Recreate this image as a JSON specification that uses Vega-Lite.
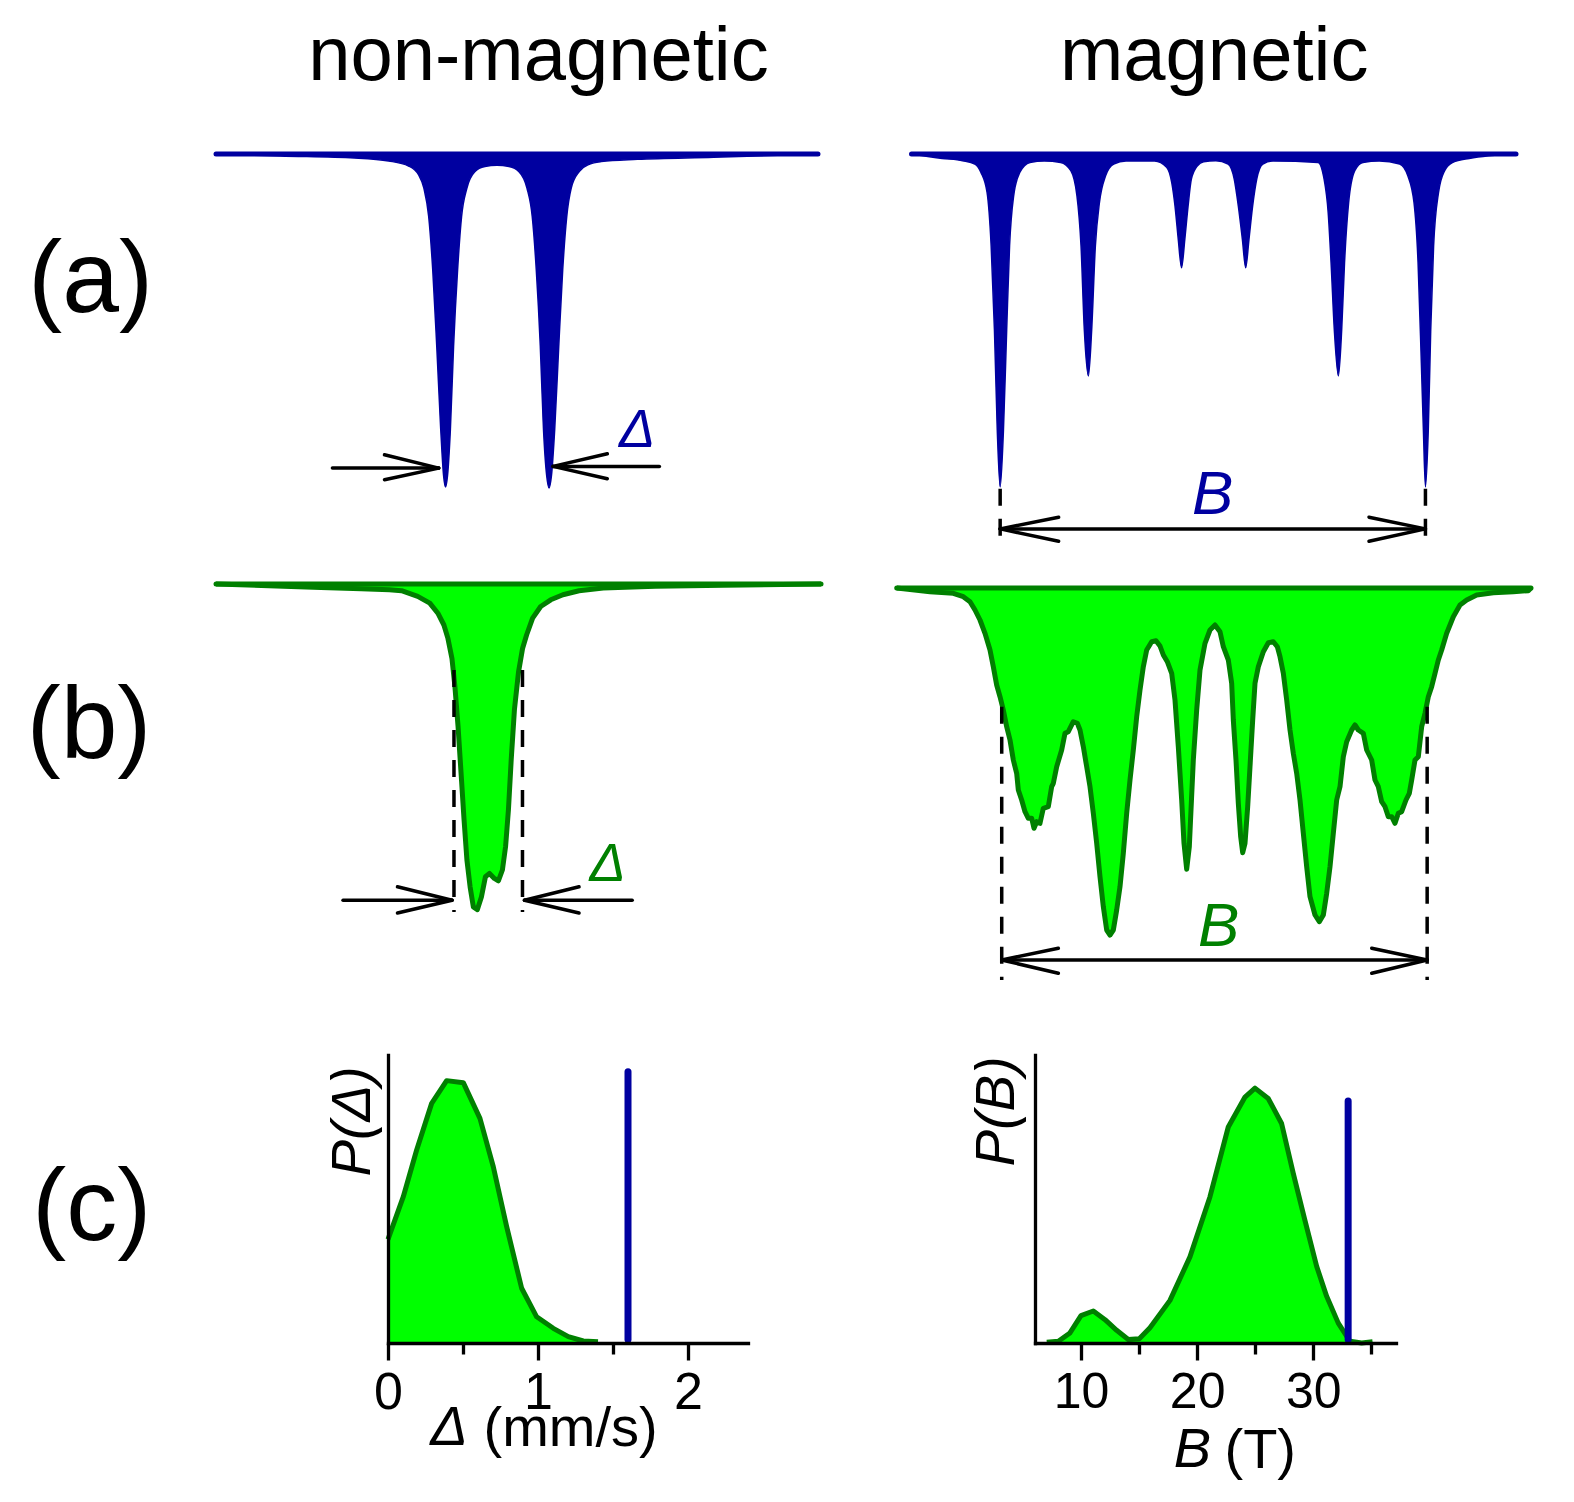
{
  "$schema": "https://vega.github.io/schema/vega-lite/v6.json",
  "width": 1574,
  "height": 1502,
  "padding": 0,
  "autosize": {"type": "none"},
  "background": "white",
  "config": {
    "view": {"stroke": null},
    "font": "Liberation Sans",
    "axis": {"labelFont": "Liberation Sans", "titleFont": "Liberation Sans", "labelColor": "black", "titleColor": "black", "domainColor": "black", "tickColor": "black", "grid": false}
  },
  "datasets": {
    "a_left": [
      {"v": -4.323, "T": 100}, {"v": -3.335, "T": 99.8}, {"v": -2.193, "T": 99.6}, {"v": -1.668, "T": 99.3}, {"v": -1.36, "T": 98.8},
      {"v": -1.205, "T": 97.91}, {"v": -1.125, "T": 96.58}, {"v": -1.051, "T": 93.76}, {"v": -0.989, "T": 88.45}, {"v": -0.927, "T": 80.81},
      {"v": -0.866, "T": 72.51}, {"v": -0.822, "T": 67.86}, {"v": -0.792, "T": 66.7}, {"v": -0.761, "T": 67.86}, {"v": -0.717, "T": 72.51},
      {"v": -0.668, "T": 80.81}, {"v": -0.606, "T": 88.45}, {"v": -0.545, "T": 93.76}, {"v": -0.464, "T": 96.58}, {"v": -0.341, "T": 98.24},
      {"v": -0.186, "T": 98.74}, {"v": -0.001, "T": 98.87}, {"v": 0.184, "T": 98.74}, {"v": 0.338, "T": 98.24}, {"v": 0.462, "T": 96.58},
      {"v": 0.542, "T": 93.76}, {"v": 0.604, "T": 88.45}, {"v": 0.666, "T": 80.81}, {"v": 0.715, "T": 72.51}, {"v": 0.764, "T": 67.86},
      {"v": 0.801, "T": 66.6}, {"v": 0.838, "T": 67.86}, {"v": 0.888, "T": 72.51}, {"v": 0.95, "T": 80.81}, {"v": 1.011, "T": 88.45},
      {"v": 1.073, "T": 93.76}, {"v": 1.141, "T": 96.58}, {"v": 1.264, "T": 98.24}, {"v": 1.419, "T": 98.97}, {"v": 1.604, "T": 99.24},
      {"v": 2.16, "T": 99.47}, {"v": 3.333, "T": 99.67}, {"v": 4.938, "T": 100}
    ],
    "a_right": [
      {"v": -7.531, "T": 100}, {"v": -6.765, "T": 99.56}, {"v": -6.255, "T": 99.33}, {"v": -5.948, "T": 99.0}, {"v": -5.795, "T": 98.16},
      {"v": -5.642, "T": 96.15}, {"v": -5.54, "T": 90.8}, {"v": -5.458, "T": 82.43}, {"v": -5.387, "T": 72.39}, {"v": -5.315, "T": 66.7},
      {"v": -5.233, "T": 72.39}, {"v": -5.152, "T": 82.43}, {"v": -5.08, "T": 90.8}, {"v": -4.978, "T": 95.82}, {"v": -4.825, "T": 98.16},
      {"v": -4.57, "T": 99.16}, {"v": -4.212, "T": 99.3}, {"v": -3.804, "T": 99.16}, {"v": -3.548, "T": 98.33}, {"v": -3.395, "T": 95.82},
      {"v": -3.293, "T": 90.8}, {"v": -3.211, "T": 82.43}, {"v": -3.109, "T": 77.81}, {"v": -3.027, "T": 82.43}, {"v": -2.935, "T": 90.8},
      {"v": -2.833, "T": 95.15}, {"v": -2.68, "T": 97.82}, {"v": -2.476, "T": 99.0}, {"v": -2.169, "T": 99.3}, {"v": -1.455, "T": 99.3},
      {"v": -1.148, "T": 98.66}, {"v": -1.026, "T": 97.16}, {"v": -0.944, "T": 94.81}, {"v": -0.862, "T": 91.47}, {"v": -0.78, "T": 88.62},
      {"v": -0.699, "T": 91.47}, {"v": -0.617, "T": 94.81}, {"v": -0.535, "T": 97.49}, {"v": -0.382, "T": 98.83}, {"v": -0.229, "T": 99.23},
      {"v": 0.077, "T": 99.33}, {"v": 0.384, "T": 99.0}, {"v": 0.537, "T": 97.49}, {"v": 0.639, "T": 94.81}, {"v": 0.741, "T": 91.47},
      {"v": 0.823, "T": 88.62}, {"v": 0.905, "T": 91.47}, {"v": 0.997, "T": 94.81}, {"v": 1.099, "T": 97.49}, {"v": 1.252, "T": 99.0},
      {"v": 1.507, "T": 99.3}, {"v": 2.631, "T": 99.16}, {"v": 2.784, "T": 97.49}, {"v": 2.886, "T": 94.14}, {"v": 2.958, "T": 89.12},
      {"v": 3.039, "T": 82.43}, {"v": 3.141, "T": 77.81}, {"v": 3.223, "T": 82.43}, {"v": 3.294, "T": 89.12}, {"v": 3.397, "T": 95.15},
      {"v": 3.55, "T": 98.33}, {"v": 3.754, "T": 99.16}, {"v": 4.163, "T": 99.3}, {"v": 4.673, "T": 99.0}, {"v": 4.877, "T": 97.82},
      {"v": 5.031, "T": 95.15}, {"v": 5.133, "T": 89.12}, {"v": 5.215, "T": 79.08}, {"v": 5.266, "T": 72.39}, {"v": 5.317, "T": 66.7},
      {"v": 5.388, "T": 72.39}, {"v": 5.449, "T": 82.43}, {"v": 5.521, "T": 90.8}, {"v": 5.644, "T": 96.15}, {"v": 5.797, "T": 98.33},
      {"v": 6.001, "T": 99.16}, {"v": 6.41, "T": 99.56}, {"v": 7.584, "T": 100}
    ],
    "b_left": [
      {"v": -4.323, "T": 100}, {"v": -2.71, "T": 99.66}, {"v": -2.089, "T": 99.53}, {"v": -1.655, "T": 99.43}, {"v": -1.469, "T": 99.33},
      {"v": -1.22, "T": 98.76}, {"v": -1.034, "T": 98.09}, {"v": -0.91, "T": 97.08}, {"v": -0.817, "T": 95.9}, {"v": -0.755, "T": 94.56},
      {"v": -0.693, "T": 92.55}, {"v": -0.649, "T": 89.86}, {"v": -0.6, "T": 85.83}, {"v": -0.55, "T": 80.8}, {"v": -0.507, "T": 76.43},
      {"v": -0.463, "T": 72.41}, {"v": -0.414, "T": 69.72}, {"v": -0.364, "T": 67.71}, {"v": -0.302, "T": 67.44}, {"v": -0.24, "T": 68.71},
      {"v": -0.178, "T": 70.73}, {"v": -0.116, "T": 71.06}, {"v": -0.041, "T": 70.56}, {"v": 0.021, "T": 70.32}, {"v": 0.083, "T": 71.4},
      {"v": 0.132, "T": 73.75}, {"v": 0.176, "T": 77.44}, {"v": 0.219, "T": 82.48}, {"v": 0.269, "T": 87.51}, {"v": 0.331, "T": 91.2},
      {"v": 0.393, "T": 93.55}, {"v": 0.455, "T": 94.9}, {"v": 0.548, "T": 96.58}, {"v": 0.672, "T": 97.75}, {"v": 0.827, "T": 98.42},
      {"v": 1.014, "T": 98.93}, {"v": 1.262, "T": 99.33}, {"v": 1.634, "T": 99.6}, {"v": 2.436, "T": 99.77}, {"v": 3.484, "T": 99.87},
      {"v": 4.985, "T": 100}
    ],
    "b_right": [
      {"v": -7.901, "T": 100}, {"v": -7.069, "T": 99.63}, {"v": -6.486, "T": 99.47}, {"v": -6.236, "T": 99.13}, {"v": -6.069, "T": 98.63},
      {"v": -5.944, "T": 97.8}, {"v": -5.819, "T": 96.8}, {"v": -5.694, "T": 95.47}, {"v": -5.569, "T": 93.8}, {"v": -5.486, "T": 92.13},
      {"v": -5.402, "T": 90.3}, {"v": -5.319, "T": 89.13}, {"v": -5.236, "T": 87.8}, {"v": -5.152, "T": 86.13}, {"v": -5.069, "T": 84.8},
      {"v": -4.986, "T": 82.8}, {"v": -4.902, "T": 81.47}, {"v": -4.861, "T": 79.8}, {"v": -4.777, "T": 78.8}, {"v": -4.694, "T": 77.63},
      {"v": -4.611, "T": 76.97}, {"v": -4.527, "T": 76.97}, {"v": -4.469, "T": 75.97}, {"v": -4.402, "T": 76.63}, {"v": -4.319, "T": 76.47},
      {"v": -4.236, "T": 77.97}, {"v": -4.111, "T": 78.13}, {"v": -4.027, "T": 80.13}, {"v": -3.986, "T": 80.47}, {"v": -3.902, "T": 82.13},
      {"v": -3.777, "T": 83.8}, {"v": -3.694, "T": 85.47}, {"v": -3.611, "T": 85.63}, {"v": -3.486, "T": 86.63}, {"v": -3.386, "T": 86.47},
      {"v": -3.319, "T": 85.8}, {"v": -3.236, "T": 84.13}, {"v": -3.152, "T": 82.13}, {"v": -3.069, "T": 80.13}, {"v": -2.986, "T": 77.47},
      {"v": -2.902, "T": 74.47}, {"v": -2.819, "T": 71.13}, {"v": -2.736, "T": 68.13}, {"v": -2.652, "T": 65.8}, {"v": -2.569, "T": 65.3},
      {"v": -2.486, "T": 65.8}, {"v": -2.402, "T": 67.8}, {"v": -2.319, "T": 70.13}, {"v": -2.236, "T": 73.47}, {"v": -2.152, "T": 77.47},
      {"v": -2.069, "T": 80.8}, {"v": -1.986, "T": 83.8}, {"v": -1.902, "T": 87.13}, {"v": -1.819, "T": 89.8}, {"v": -1.736, "T": 92.13},
      {"v": -1.652, "T": 93.8}, {"v": -1.527, "T": 94.63}, {"v": -1.419, "T": 94.73}, {"v": -1.319, "T": 94.2}, {"v": -1.236, "T": 93.3},
      {"v": -1.136, "T": 92.63}, {"v": -1.027, "T": 91.47}, {"v": -0.944, "T": 88.8}, {"v": -0.861, "T": 84.13}, {"v": -0.777, "T": 78.8},
      {"v": -0.719, "T": 74.47}, {"v": -0.652, "T": 71.87}, {"v": -0.586, "T": 74.13}, {"v": -0.544, "T": 77.8}, {"v": -0.486, "T": 82.8},
      {"v": -0.402, "T": 87.8}, {"v": -0.319, "T": 91.8}, {"v": -0.194, "T": 94.47}, {"v": -0.069, "T": 95.8}, {"v": 0.056, "T": 96.3},
      {"v": 0.181, "T": 95.63}, {"v": 0.264, "T": 94.13}, {"v": 0.389, "T": 92.8}, {"v": 0.473, "T": 90.47}, {"v": 0.514, "T": 86.8},
      {"v": 0.581, "T": 82.8}, {"v": 0.639, "T": 78.47}, {"v": 0.698, "T": 75.13}, {"v": 0.748, "T": 73.53}, {"v": 0.806, "T": 74.47},
      {"v": 0.873, "T": 78.13}, {"v": 0.931, "T": 82.13}, {"v": 0.998, "T": 86.8}, {"v": 1.056, "T": 90.47}, {"v": 1.139, "T": 92.13},
      {"v": 1.264, "T": 93.63}, {"v": 1.389, "T": 94.53}, {"v": 1.514, "T": 94.63}, {"v": 1.614, "T": 94.13}, {"v": 1.681, "T": 93.13},
      {"v": 1.764, "T": 91.47}, {"v": 1.848, "T": 88.8}, {"v": 1.931, "T": 85.8}, {"v": 2.014, "T": 83.47}, {"v": 2.098, "T": 81.47},
      {"v": 2.181, "T": 78.8}, {"v": 2.264, "T": 75.47}, {"v": 2.348, "T": 72.13}, {"v": 2.431, "T": 69.13}, {"v": 2.556, "T": 67.3},
      {"v": 2.664, "T": 66.63}, {"v": 2.764, "T": 67.3}, {"v": 2.848, "T": 69.47}, {"v": 2.931, "T": 72.13}, {"v": 3.014, "T": 75.47},
      {"v": 3.098, "T": 78.8}, {"v": 3.181, "T": 80.13}, {"v": 3.264, "T": 83.13}, {"v": 3.348, "T": 84.63}, {"v": 3.473, "T": 85.8},
      {"v": 3.556, "T": 86.3}, {"v": 3.639, "T": 85.8}, {"v": 3.764, "T": 85.47}, {"v": 3.848, "T": 83.8}, {"v": 3.973, "T": 82.8},
      {"v": 4.056, "T": 80.8}, {"v": 4.139, "T": 80.13}, {"v": 4.223, "T": 78.63}, {"v": 4.306, "T": 78.13}, {"v": 4.389, "T": 77.13},
      {"v": 4.473, "T": 77.13}, {"v": 4.556, "T": 76.47}, {"v": 4.639, "T": 77.47}, {"v": 4.723, "T": 77.63}, {"v": 4.831, "T": 78.8},
      {"v": 4.914, "T": 79.47}, {"v": 4.973, "T": 80.8}, {"v": 5.056, "T": 82.8}, {"v": 5.139, "T": 83.13}, {"v": 5.223, "T": 86.13},
      {"v": 5.306, "T": 87.47}, {"v": 5.389, "T": 89.13}, {"v": 5.473, "T": 90.13}, {"v": 5.556, "T": 91.47}, {"v": 5.639, "T": 92.8},
      {"v": 5.723, "T": 93.8}, {"v": 5.848, "T": 95.47}, {"v": 6.014, "T": 97.13}, {"v": 6.181, "T": 98.3}, {"v": 6.348, "T": 98.8},
      {"v": 6.598, "T": 99.3}, {"v": 7.014, "T": 99.53}, {"v": 7.514, "T": 99.63}, {"v": 7.889, "T": 99.73}, {"v": 7.956, "T": 100}
    ],
    "c_left": [
      {"d": 0, "P": 0.36}, {"d": 0.102, "P": 0.508}, {"d": 0.191, "P": 0.67}, {"d": 0.291, "P": 0.832}, {"d": 0.391, "P": 0.911},
      {"d": 0.502, "P": 0.904}, {"d": 0.613, "P": 0.78}, {"d": 0.702, "P": 0.612}, {"d": 0.791, "P": 0.404}, {"d": 0.891, "P": 0.19},
      {"d": 0.991, "P": 0.091}, {"d": 1.102, "P": 0.051}, {"d": 1.202, "P": 0.022}, {"d": 1.302, "P": 0.007}, {"d": 1.4, "P": 0.004}
    ],
    "c_right": [
      {"B": 7.05, "P": 0.003}, {"B": 8.05, "P": 0.006}, {"B": 9.05, "P": 0.035}, {"B": 10.0, "P": 0.095}, {"B": 11.06, "P": 0.111},
      {"B": 12.07, "P": 0.081}, {"B": 13.07, "P": 0.044}, {"B": 14.07, "P": 0.012}, {"B": 15.02, "P": 0.015}, {"B": 15.94, "P": 0.053},
      {"B": 17.66, "P": 0.148}, {"B": 19.38, "P": 0.299}, {"B": 21.1, "P": 0.507}, {"B": 22.68, "P": 0.75}, {"B": 24.12, "P": 0.854},
      {"B": 24.98, "P": 0.885}, {"B": 26.12, "P": 0.849}, {"B": 27.27, "P": 0.762}, {"B": 28.28, "P": 0.588}, {"B": 29.28, "P": 0.426},
      {"B": 30.29, "P": 0.266}, {"B": 31.15, "P": 0.162}, {"B": 32.15, "P": 0.069}, {"B": 33.16, "P": 0.006}, {"B": 34.16, "P": 0.0},
      {"B": 35.1, "P": 0.004}
    ]
  },
  "resolve": {"scale": {"x": "independent", "y": "independent"}, "axis": {"x": "independent", "y": "independent"}},
  "layer": [
    {
      "encoding": {
        "x": {"field": "v", "type": "quantitative", "scale": {"domain": [-7.6462, 16.5692], "nice": false, "zero": false}, "axis": null},
        "y": {"field": "T", "type": "quantitative", "scale": {"domain": [-34.8, 115.4], "nice": false, "zero": false}, "axis": null}
      },
      "layer": [
        {"data": {"name": "a_left"}, "mark": {"type": "area", "interpolate": "monotone", "fill": "#0000A0", "stroke": "#0000A0", "strokeWidth": 1.5}, "encoding": {"y2": {"datum": 100}}},
        {"data": {"values": [{"v": -4.323, "T": 100, "v2": 4.938}]}, "mark": {"type": "rule", "stroke": "#0000A0", "strokeWidth": 5, "strokeCap": "round"}, "encoding": {"x2": {"field": "v2"}}},
        {"data": {"values": [
          {"v": -2.532, "T": 68.59, "v2": -0.897, "T2": 68.59},
          {"v": -1.731, "T": 69.92, "v2": -0.897, "T2": 68.59},
          {"v": -1.731, "T": 67.43, "v2": -0.897, "T2": 68.59},
          {"v": 2.498, "T": 68.76, "v2": 0.863, "T2": 68.76},
          {"v": 1.697, "T": 70.02, "v2": 0.863, "T2": 68.76},
          {"v": 1.697, "T": 67.53, "v2": 0.863, "T2": 68.76}
        ]}, "mark": {"type": "rule", "stroke": "black", "strokeWidth": 3.5, "strokeCap": "round"}, "encoding": {"x2": {"field": "v2"}, "y2": {"field": "T2"}}},
        {"data": {"values": [{"v": 2.154, "T": 70.7, "label": "Δ"}]}, "mark": {"type": "text", "fontStyle": "italic", "fontSize": 54, "fill": "#0000A0", "align": "center", "baseline": "alphabetic"}, "encoding": {"text": {"field": "label"}}},
        {"data": {"values": [{"v": 0.638, "T": 107.4, "label": "non-magnetic"}, {"v": 11.034, "T": 107.4, "label": "magnetic"}]}, "mark": {"type": "text", "fontSize": 76, "fill": "black", "align": "center", "baseline": "alphabetic"}, "encoding": {"text": {"field": "label"}}},
        {"data": {"values": [{"v": -6.251, "T": 84.23, "label": "(a)"}, {"v": -6.277, "T": 39.57, "label": "(b)"}, {"v": -6.235, "T": -8.6, "label": "(c)"}]}, "mark": {"type": "text", "fontSize": 102, "fill": "black", "align": "center", "baseline": "alphabetic"}, "encoding": {"text": {"field": "label"}}}
      ]
    },
    {
      "encoding": {
        "x": {"field": "v", "type": "quantitative", "scale": {"domain": [-30.319, 9.031], "nice": false, "zero": false}, "axis": null},
        "y": {"field": "T", "type": "quantitative", "scale": {"domain": [-34.8, 115.4], "nice": false, "zero": false}, "axis": null}
      },
      "layer": [
        {"data": {"name": "a_right"}, "mark": {"type": "area", "interpolate": "monotone", "fill": "#0000A0", "stroke": "#0000A0", "strokeWidth": 1.5}, "encoding": {"y2": {"datum": 100}}},
        {"data": {"values": [{"v": -7.531, "T": 100, "v2": 7.581}]}, "mark": {"type": "rule", "stroke": "#0000A0", "strokeWidth": 5, "strokeCap": "round"}, "encoding": {"x2": {"field": "v2"}}},
        {"data": {"values": [
          {"v": -5.315, "T": 62.51, "v2": 5.317, "T2": 62.51},
          {"v": -3.854, "T": 63.68, "v2": -5.315, "T2": 62.51},
          {"v": -3.854, "T": 61.27, "v2": -5.315, "T2": 62.51},
          {"v": 3.906, "T": 63.68, "v2": 5.317, "T2": 62.51},
          {"v": 3.906, "T": 61.27, "v2": 5.317, "T2": 62.51}
        ]}, "mark": {"type": "rule", "stroke": "black", "strokeWidth": 3.5, "strokeCap": "round"}, "encoding": {"x2": {"field": "v2"}, "y2": {"field": "T2"}}},
        {"data": {"values": [
          {"v": -5.315, "T": 66.53, "v2": -5.315, "T2": 61.68},
          {"v": 5.317, "T": 66.53, "v2": 5.317, "T2": 61.68}
        ]}, "mark": {"type": "rule", "stroke": "black", "strokeWidth": 3.5, "strokeDash": [17, 13]}, "encoding": {"x2": {"field": "v2"}, "y2": {"field": "T2"}}},
        {"data": {"values": [{"v": 0.0, "T": 64.0, "label": "B"}]}, "mark": {"type": "text", "fontStyle": "italic", "fontSize": 62, "fill": "#0000A0", "align": "center", "baseline": "alphabetic"}, "encoding": {"text": {"field": "label"}}}
      ]
    },
    {
      "encoding": {
        "x": {"field": "v", "type": "quantitative", "scale": {"domain": [-7.6462, 16.5692], "nice": false, "zero": false}, "axis": null},
        "y": {"field": "T", "type": "quantitative", "scale": {"domain": [8.2, 158.4], "nice": false, "zero": false}, "axis": null}
      },
      "layer": [
        {"data": {"name": "b_left"}, "mark": {"type": "area", "fill": "#00FF00"}, "encoding": {"y2": {"datum": 100}}},
        {"data": {"name": "b_left"}, "mark": {"type": "line", "stroke": "#008000", "strokeWidth": 5, "strokeJoin": "round"}},
        {"data": {"values": [{"v": -4.323, "T": 100, "v2": 4.985}]}, "mark": {"type": "rule", "stroke": "#008000", "strokeWidth": 5, "strokeCap": "round"}, "encoding": {"x2": {"field": "v2"}}},
        {"data": {"values": [
          {"v": -2.369, "T": 68.38, "v2": -0.692, "T2": 68.38},
          {"v": -1.531, "T": 69.72, "v2": -0.692, "T2": 68.38},
          {"v": -1.531, "T": 67.1, "v2": -0.692, "T2": 68.38},
          {"v": 2.08, "T": 68.38, "v2": 0.423, "T2": 68.38},
          {"v": 1.262, "T": 69.72, "v2": 0.423, "T2": 68.38},
          {"v": 1.262, "T": 67.1, "v2": 0.423, "T2": 68.38}
        ]}, "mark": {"type": "rule", "stroke": "black", "strokeWidth": 3.5, "strokeCap": "round"}, "encoding": {"x2": {"field": "v2"}, "y2": {"field": "T2"}}},
        {"data": {"values": [
          {"v": -0.662, "T": 91.4, "v2": -0.662, "T2": 67.2},
          {"v": 0.392, "T": 91.4, "v2": 0.392, "T2": 67.2}
        ]}, "mark": {"type": "rule", "stroke": "black", "strokeWidth": 3.5, "strokeDash": [17, 13]}, "encoding": {"x2": {"field": "v2"}, "y2": {"field": "T2"}}},
        {"data": {"values": [{"v": 1.7, "T": 70.32, "label": "Δ"}]}, "mark": {"type": "text", "fontStyle": "italic", "fontSize": 54, "fill": "#008000", "align": "center", "baseline": "alphabetic"}, "encoding": {"text": {"field": "label"}}}
      ]
    },
    {
      "encoding": {
        "x": {"field": "v", "type": "quantitative", "scale": {"domain": [-30.319, 9.031], "nice": false, "zero": false}, "axis": null},
        "y": {"field": "T", "type": "quantitative", "scale": {"domain": [8.6, 158.8], "nice": false, "zero": false}, "axis": null}
      },
      "layer": [
        {"data": {"name": "b_right"}, "mark": {"type": "area", "fill": "#00FF00"}, "encoding": {"y2": {"datum": 100}}},
        {"data": {"name": "b_right"}, "mark": {"type": "line", "stroke": "#008000", "strokeWidth": 5, "strokeJoin": "round"}},
        {"data": {"values": [{"v": -7.901, "T": 100, "v2": 7.956}]}, "mark": {"type": "rule", "stroke": "#008000", "strokeWidth": 5, "strokeCap": "round"}, "encoding": {"x2": {"field": "v2"}}},
        {"data": {"values": [
          {"v": -5.276, "T": 62.8, "v2": 5.36, "T2": 62.8},
          {"v": -3.861, "T": 63.97, "v2": -5.276, "T2": 62.8},
          {"v": -3.861, "T": 61.47, "v2": -5.276, "T2": 62.8},
          {"v": 3.974, "T": 63.97, "v2": 5.36, "T2": 62.8},
          {"v": 3.974, "T": 61.47, "v2": 5.36, "T2": 62.8}
        ]}, "mark": {"type": "rule", "stroke": "black", "strokeWidth": 3.5, "strokeCap": "round"}, "encoding": {"x2": {"field": "v2"}, "y2": {"field": "T2"}}},
        {"data": {"values": [
          {"v": -5.276, "T": 88.13, "v2": -5.276, "T2": 60.8},
          {"v": 5.36, "T": 88.13, "v2": 5.36, "T2": 60.8}
        ]}, "mark": {"type": "rule", "stroke": "black", "strokeWidth": 3.5, "strokeDash": [17, 13]}, "encoding": {"x2": {"field": "v2"}, "y2": {"field": "T2"}}},
        {"data": {"values": [{"v": 0.149, "T": 64.24, "label": "B"}]}, "mark": {"type": "text", "fontStyle": "italic", "fontSize": 62, "fill": "#008000", "align": "center", "baseline": "alphabetic"}, "encoding": {"text": {"field": "label"}}}
      ]
    },
    {
      "encoding": {
        "x": {"field": "d", "type": "quantitative", "scale": {"domain": [0, 2.4], "range": [388, 748], "nice": false, "zero": false},
          "axis": {"orient": "bottom", "offset": -159, "values": [0, 1, 2], "tickSize": 17, "tickWidth": 3.3, "domainWidth": 3.3, "domainCap": "square", "labelFontSize": 52, "labelPadding": 7, "labelFlush": false, "labelOverlap": false, "title": "(mm/s)", "titleFontSize": 56, "titleFontWeight": "normal", "titleAlign": "left", "titleBaseline": "alphabetic", "titleX": 483, "titleY": 102, "zindex": 1}},
        "y": {"field": "P", "type": "quantitative", "scale": {"domain": [0, 1], "range": [1343, 1055], "nice": false, "zero": false},
          "axis": {"orient": "left", "offset": -388, "ticks": false, "labels": false, "domainWidth": 3.3, "domainCap": "square", "title": "P(Δ)", "titleFontSize": 55, "titleFontStyle": "italic", "titleFontWeight": "normal", "titleAngle": -90, "titleAlign": "center", "titleBaseline": "middle", "titleX": -35.5, "titleY": 1121, "zindex": 1}}
      },
      "layer": [
        {"data": {"name": "c_left"}, "mark": {"type": "area", "fill": "#00FF00"}, "encoding": {"y2": {"datum": 0}}},
        {"data": {"name": "c_left"}, "mark": {"type": "line", "stroke": "#008000", "strokeWidth": 5, "strokeJoin": "round"}},
        {"data": {"values": [{"d": 0.407, "P": -0.354, "label": "Δ"}]}, "mark": {"type": "text", "fontStyle": "italic", "fontSize": 56, "fill": "black", "align": "center", "baseline": "alphabetic"}, "encoding": {"text": {"field": "label"}}}
      ]
    },
    {
      "data": {"values": [{"d": 1.6, "P": 0.012, "P2": 0.942}]},
      "mark": {"type": "rule", "stroke": "#0000A0", "strokeWidth": 7, "strokeCap": "round"},
      "encoding": {
        "x": {"field": "d", "type": "quantitative", "scale": {"domain": [0, 2.4], "range": [388, 748], "nice": false, "zero": false},
          "axis": {"orient": "bottom", "offset": -159, "values": [0.5, 1.5], "tickSize": 11, "tickWidth": 3.3, "labels": false, "domain": false, "title": null, "zindex": 1}},
        "y": {"field": "P", "type": "quantitative", "scale": {"domain": [0, 1], "range": [1343, 1055], "nice": false, "zero": false}, "axis": null},
        "y2": {"field": "P2"}
      }
    },
    {
      "encoding": {
        "x": {"field": "B", "type": "quantitative", "scale": {"domain": [6.04, 37.12], "range": [1035, 1396], "nice": false, "zero": false},
          "axis": {"orient": "bottom", "offset": -159, "values": [10, 20, 30], "tickSize": 17, "tickWidth": 3.3, "domainWidth": 3.3, "domainCap": "square", "labelFontSize": 50, "labelPadding": 7, "labelFlush": false, "labelOverlap": false, "title": "(T)", "titleFontSize": 56, "titleFontWeight": "normal", "titleAlign": "left", "titleBaseline": "alphabetic", "titleX": 1224, "titleY": 124, "zindex": 1}},
        "y": {"field": "P", "type": "quantitative", "scale": {"domain": [0, 1], "range": [1343, 1055], "nice": false, "zero": false},
          "axis": {"orient": "left", "offset": -1035, "ticks": false, "labels": false, "domainWidth": 3.3, "domainCap": "square", "title": "P(B)", "titleFontSize": 55, "titleFontStyle": "italic", "titleFontWeight": "normal", "titleAngle": -90, "titleAlign": "center", "titleBaseline": "middle", "titleX": -39, "titleY": 1111, "zindex": 1}}
      },
      "layer": [
        {"data": {"name": "c_right"}, "mark": {"type": "area", "fill": "#00FF00"}, "encoding": {"y2": {"datum": 0}}},
        {"data": {"name": "c_right"}, "mark": {"type": "line", "stroke": "#008000", "strokeWidth": 5, "strokeJoin": "round"}},
        {"data": {"values": [{"B": 19.6, "P": -0.43, "label": "B"}]}, "mark": {"type": "text", "fontStyle": "italic", "fontSize": 56, "fill": "black", "align": "center", "baseline": "alphabetic"}, "encoding": {"text": {"field": "label"}}}
      ]
    },
    {
      "data": {"values": [{"B": 33.0, "P": 0.012, "P2": 0.84}]},
      "mark": {"type": "rule", "stroke": "#0000A0", "strokeWidth": 7, "strokeCap": "round"},
      "encoding": {
        "x": {"field": "B", "type": "quantitative", "scale": {"domain": [6.04, 37.12], "range": [1035, 1396], "nice": false, "zero": false},
          "axis": {"orient": "bottom", "offset": -159, "values": [15, 25, 35], "tickSize": 11, "tickWidth": 3.3, "labels": false, "domain": false, "title": null, "zindex": 1}},
        "y": {"field": "P", "type": "quantitative", "scale": {"domain": [0, 1], "range": [1343, 1055], "nice": false, "zero": false}, "axis": null},
        "y2": {"field": "P2"}
      }
    }
  ]
}
